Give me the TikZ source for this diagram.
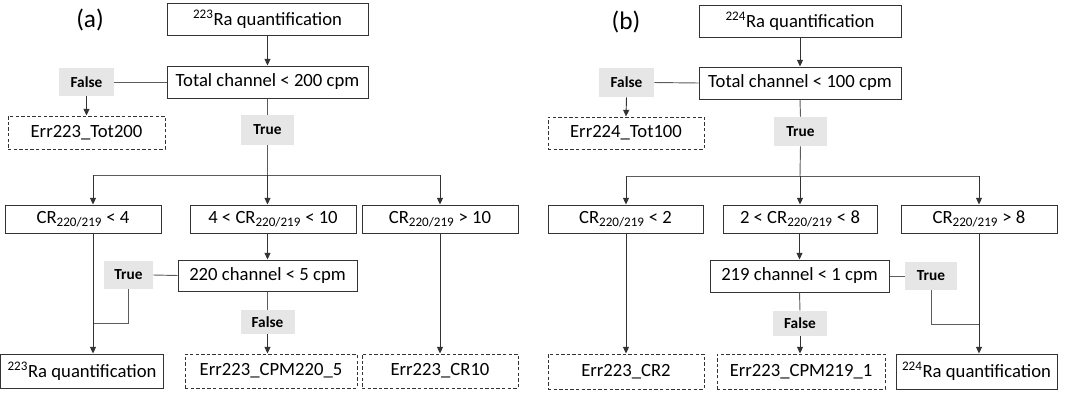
\documentclass[tikz,border=0pt]{standalone}
\usepackage{fontspec}
\setmainfont{Carlito}
\usetikzlibrary{arrows.meta}
\definecolor{lblgray}{HTML}{E6E6E6}
\definecolor{edge}{HTML}{333333}
\tikzset{
  sz/.style 2 args={minimum width=#1*0.75pt, minimum height=#2*0.75pt},
  box/.style={draw=edge, line width=0.75pt, inner sep=0pt, font=\fontsize{14}{16}\selectfont},
  errbox/.style={box, dashed, dash pattern=on 2.6pt off 1.6pt},
  lbl/.style={fill=lblgray, inner sep=0pt, font=\bfseries\fontsize{11.5}{13}\selectfont},
  ln/.style={draw=edge!80, line width=0.7pt},
  arr/.style={ln, draw=edge, -{Triangle[length=5pt,width=4.5pt]}},
  tag/.style={font=\fontsize{19}{22}\selectfont},
}
\newcommand{\crsub}{CR\textsubscript{220/219}}
\begin{document}
\begin{tikzpicture}[x=0.75pt, y=-0.75pt]
\useasboundingbox (0,0) rectangle (1083,394);

% ---------- panel (a): 223Ra ----------
\node[tag] (tagA) at (90,20) {(a)};
\node[box, sz={201}{32}] (topA) at (267.5,19) {\textsuperscript{223}Ra quantification};
\node[box, sz={201}{32}] (totA) at (267.5,82) {Total channel < 200 cpm};
\node[lbl, sz={55}{28}] (falseA) at (86.5,82) {False};
\node[errbox, sz={157}{33}] (errTotA) at (86.5,132.5) {Err223\_Tot200};
\node[lbl, sz={53}{30}] (trueA) at (267.5,130) {True};
\coordinate (brA) at (267.5,175);
\coordinate (brLA) at (93,175);
\coordinate (brRA) at (440,175);
\node[box, sz={156}{28}] (cr1A) at (83,219) {\crsub{} < 4};
\node[box, sz={166}{28}] (cr2A) at (273,219) {4 < \crsub{} < 10};
\node[box, sz={156}{28}] (cr3A) at (440,219) {\crsub{} > 10};
\node[box, sz={179}{31}] (chA) at (267.5,275.5) {220 channel < 5 cpm};
\node[lbl, sz={49}{28}] (trueBA) at (128.5,275) {True};
\coordinate (joinA) at (93,323);
\node[lbl, sz={54}{24}] (falseBA) at (267.5,322) {False};
\node[box, sz={163}{34}] (quantA) at (82,371) {\textsuperscript{223}Ra quantification};
\node[errbox, sz={172}{34}] (errCPMA) at (271,371) {Err223\_CPM220\_5};
\node[errbox, sz={156}{34}] (errCRA) at (440,371) {Err223\_CR10};

\draw[arr] (topA) -- (totA);
\draw[ln] (totA.west) -- (falseA.east);
\draw[arr] (falseA.south) -- (errTotA.north);
\draw[ln] (totA.south) -- (trueA.north);
\draw[ln] (trueA.south) -- (brA);
\draw[ln] (brLA) -- (brRA);
\draw[arr] (brLA) -- (brLA |- cr1A.north);
\draw[arr] (brA) -- (brA |- cr2A.north);
\draw[arr] (brRA) -- (cr3A.north);
\draw[arr] (chA.north |- cr2A.south) -- (chA.north);
\draw[ln] (chA.west) -- (trueBA.east);
\draw[ln] (trueBA.south) |- (joinA);
\draw[arr] (brLA |- cr1A.south) -- (brLA |- quantA.north);
\draw[ln] (chA.south) -- (falseBA.north);
\draw[arr] (falseBA.south) -- (falseBA.south |- errCPMA.north);
\draw[arr] (cr3A) -- (errCRA);

% ---------- panel (b): 224Ra ----------
\node[tag] (tagB) at (626,22) {(b)};
\node[box, sz={202}{32}] (topB) at (800,21) {\textsuperscript{224}Ra quantification};
\node[box, sz={202}{32}] (totB) at (800,83) {Total channel < 100 cpm};
\node[lbl, sz={55}{29}] (falseB) at (626.5,82.5) {False};
\node[errbox, sz={156}{32}] (errTotB) at (626,133) {Err224\_Tot100};
\node[lbl, sz={53}{29}] (trueB) at (800.5,131.5) {True};
\coordinate (brB) at (800,176);
\coordinate (brLB) at (626,176);
\coordinate (brRB) at (979,176);
\node[box, sz={155}{28}] (cr1B) at (625.5,219) {\crsub{} < 2};
\node[box, sz={154}{28}] (cr2B) at (800,219) {2 < \crsub{} < 8};
\node[box, sz={156}{28}] (cr3B) at (979,219) {\crsub{} > 8};
\node[box, sz={179}{32}] (chB) at (799.5,276) {219 channel < 1 cpm};
\node[lbl, sz={52}{28}] (trueBB) at (931,276) {True};
\coordinate (joinB) at (979,324);
\node[lbl, sz={54}{25}] (falseBB) at (800,323.5) {False};
\node[errbox, sz={156}{35}] (errCRB) at (626,371.5) {Err223\_CR2};
\node[errbox, sz={168}{35}] (errCPMB) at (801,371.5) {Err223\_CPM219\_1};
\node[box, sz={161}{35}] (quantB) at (976.5,371.5) {\textsuperscript{224}Ra quantification};

\draw[arr] (topB) -- (totB);
\draw[ln] (totB.west) -- (falseB.east);
\draw[arr] (falseB.south) -- (errTotB.north);
\draw[ln] (totB.south) -- (trueB.north);
\draw[ln] (trueB.south) -- (brB);
\draw[ln] (brLB) -- (brRB);
\draw[arr] (brLB) -- (brLB |- cr1B.north);
\draw[arr] (brB) -- (cr2B.north);
\draw[arr] (brRB) -- (cr3B.north);
\draw[arr] (chB.north |- cr2B.south) -- (chB.north);
\draw[ln] (chB.east) -- (trueBB.west);
\draw[ln] (trueBB.south) |- (joinB);
\draw[arr] (brLB |- cr1B.south) -- (brLB |- errCRB.north);
\draw[ln] (chB.south) -- (falseBB.north);
\draw[arr] (falseBB.south) -- (falseBB.south |- errCPMB.north);
\draw[arr] (brRB |- cr3B.south) -- (brRB |- quantB.north);
\end{tikzpicture}
\end{document}
